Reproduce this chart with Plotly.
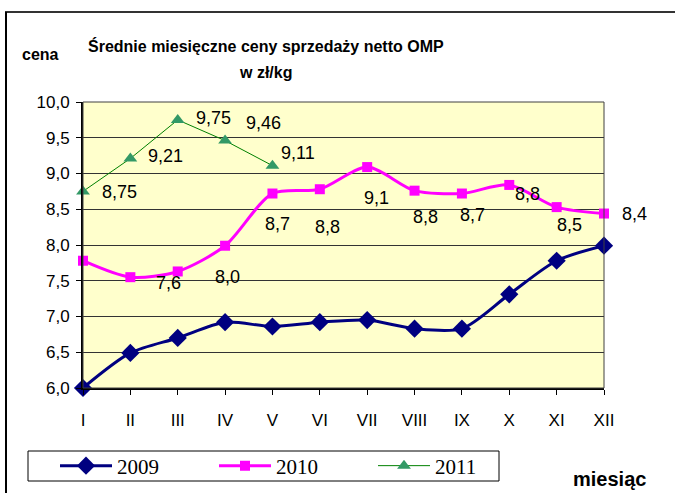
import plotly.graph_objects as go

months = ["I", "II", "III", "IV", "V", "VI", "VII", "VIII", "IX", "X", "XI", "XII"]
v2009 = [6.00, 6.49, 6.70, 6.92, 6.86, 6.92, 6.95, 6.83, 6.83, 7.31, 7.78, 7.99]
v2010 = [7.78, 7.55, 7.63, 7.99, 8.72, 8.78, 9.09, 8.76, 8.72, 8.84, 8.53, 8.44]
months2011 = ["I", "II", "III", "IV", "V"]
v2011 = [8.75, 9.21, 9.75, 9.46, 9.11]
# which 2010 points carry a data label
label2010 = [False, False, True, True, True, True, True, True, True, True, True, True]

# label offsets (style): pixels
off2010 = [(0, 0), (0, 0), (-9, -12), (2, -31), (5, -30), (8, -38), (9, -31),
           (11, -26), (11, -21), (18, -9), (13, -18), (30, 0)]
off2011 = [(36, -1), (35, 2), (36, 2), (38, 18), (26, 13)]

FONT = "Liberation Sans, Arial, sans-serif"

fig = go.Figure()
fig.add_trace(go.Scatter(
    x=months, y=v2009, name="2009", mode="lines+markers", cliponaxis=False,
    line=dict(color="#000080", width=3, shape="spline", smoothing=0.8),
    marker=dict(symbol="diamond", size=14, color="#000080"),
))
fig.add_trace(go.Scatter(
    x=months, y=v2010, name="2010", mode="lines+markers", cliponaxis=False,
    line=dict(color="#FF00FF", width=3, shape="spline", smoothing=0.8),
    marker=dict(symbol="square", size=10, color="#FF00FF"),
))
fig.add_trace(go.Scatter(
    x=months2011, y=v2011, name="2011", mode="lines+markers", cliponaxis=False,
    line=dict(color="#008000", width=1),
    marker=dict(symbol="triangle-up", size=12, color="#339966"),
))

def fmt(v, d):
    return f"{v:.{d}f}".replace(".", ",")

ann = []
for m, v, show, (dx, dy) in zip(months, v2010, label2010, off2010):
    if show:
        ann.append(dict(x=m, y=v, xref="x", yref="y", text=fmt(v, 1), showarrow=False,
                        xanchor="center", yanchor="middle",
                        xshift=dx, yshift=dy, font=dict(family=FONT, size=18, color="black")))
for m, v, (dx, dy) in zip(months2011, v2011, off2011):
    ann.append(dict(x=m, y=v, xref="x", yref="y", text=fmt(v, 2), showarrow=False,
                    xanchor="center", yanchor="middle",
                    xshift=dx, yshift=dy, font=dict(family=FONT, size=18, color="black")))

# pixel helpers for decorative text/frame (plot area 83..604 x 102..388)
L, R, T, B = 83, 604, 102, 388
def px(x):
    return (x - L) / (R - L)
def py(y):
    return (B - y) / (B - T)

for text, x, y, size in [("<b>Średnie miesięczne ceny sprzedaży netto OMP</b>", 266, 46, 16),
                         ("<b>w zł/kg</b>", 265, 73, 16),
                         ("<b>cena</b>", 40, 55, 16),
                         ("<b>miesiąc</b>", 609, 479, 20)]:
    ann.append(dict(x=px(x), y=py(y), xref="paper", yref="paper", showarrow=False,
                    xanchor="center", yanchor="middle", text=text,
                    font=dict(family=FONT, size=size, color="black")))

shapes = [
    # plot area border
    dict(type="rect", xref="paper", yref="paper", x0=0, x1=1, y0=0, y1=1,
         line=dict(color="#404040", width=1), layer="above"),
    # outer chart frame (top and left)
    dict(type="line", xref="paper", yref="paper", x0=px(5), x1=px(680), y0=py(12), y1=py(12),
         line=dict(color="#333333", width=2)),
    dict(type="line", xref="paper", yref="paper", x0=px(6), x1=px(6), y0=py(12), y1=py(500),
         line=dict(color="#000000", width=2)),
    # legend frame
    dict(type="rect", xref="paper", yref="paper", x0=px(28), x1=px(499), y0=py(451), y1=py(481),
         line=dict(color="#000000", width=1), fillcolor="white", layer="below"),
]

fig.update_layout(
    width=675, height=493,
    margin=dict(l=L, r=675 - R, t=T, b=493 - B, autoexpand=False),
    paper_bgcolor="white", plot_bgcolor="#FFFFCC",
    separators=", ",
    font=dict(family=FONT, size=16, color="black"),
    showlegend=True,
    legend=dict(orientation="h", x=px(55), y=py(466), xanchor="left", yanchor="middle",
                borderwidth=0, bgcolor="rgba(0,0,0,0)",
                font=dict(family="Liberation Serif, Times New Roman, serif", size=21, color="black"),
                itemwidth=52, entrywidth=92, entrywidthmode="pixels"),
    annotations=ann, shapes=shapes,
)
fig.update_xaxes(type="category", range=[0, 11], showgrid=False, showline=True,
                 linecolor="black", linewidth=2, ticks="outside", ticklen=5, tickcolor="black",
                 ticklabelstandoff=11, tickfont=dict(family=FONT, size=17, color="black"),
                 zeroline=False)
fig.update_yaxes(range=[6, 10], dtick=0.5, tickformat=".1f", showgrid=True, gridcolor="#333333",
                 gridwidth=1, showline=True, linecolor="black", linewidth=2, ticks="outside",
                 ticklen=5, tickcolor="black", ticklabelstandoff=3,
                 tickfont=dict(family=FONT, size=17, color="black"), zeroline=False)

fig.write_html("out.html", config={"displayModeBar": False},
               post_script="document.body.style.margin='0px';")
